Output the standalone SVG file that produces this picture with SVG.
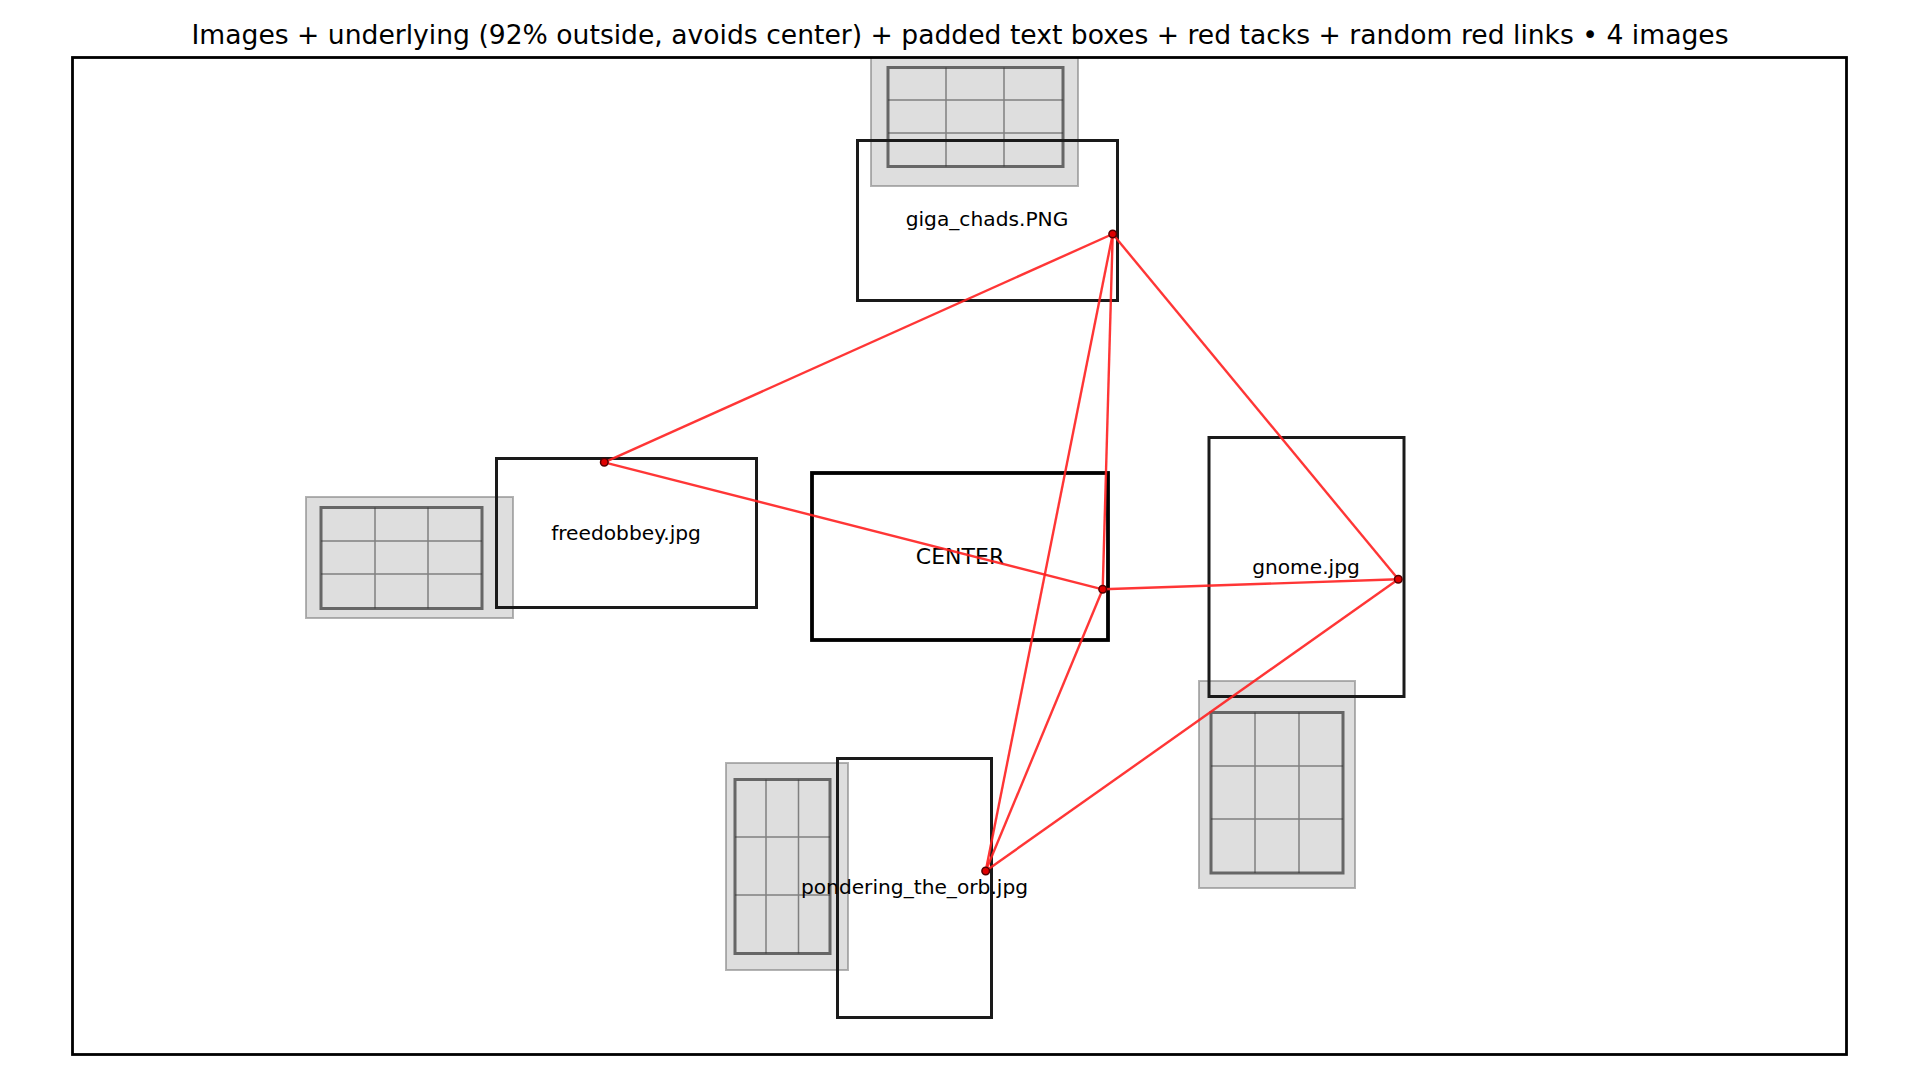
<svg xmlns="http://www.w3.org/2000/svg" width="1920" height="1080" viewBox="0 0 1920 1080">
<style>
  text { font-family: "DejaVu Sans", "Liberation Sans", sans-serif; fill: #000; }
  .title { font-size: 26.6px; }
  .lbl { font-size: 20.2px; text-anchor: middle; }
  .ctr { font-size: 22px; text-anchor: middle; }
  .bg { fill: #c8c8c8; fill-opacity: 0.6; stroke: #808080; stroke-opacity: 0.6; stroke-width: 2; }
  .img { fill: none; stroke: #333; stroke-opacity: 0.7; stroke-width: 3; }
  .grid { stroke: #333; stroke-opacity: 0.55; stroke-width: 1.5; fill: none; }
  .box { fill: none; stroke: #1a1a1a; stroke-width: 3; }
  .cbox { fill: none; stroke: #000; stroke-width: 3.8; }
  .link { stroke: #ff2020; stroke-opacity: 0.9; stroke-width: 2.4; fill: none; }
  .tack { fill: #e00000; stroke: #550000; stroke-width: 1.5; }
</style>
<defs>
  <clipPath id="ax"><rect x="72.5" y="57.5" width="1774" height="997"/></clipPath>
</defs>
<rect width="1920" height="1080" fill="#fff"/>
<text class="title" x="960" y="44" text-anchor="middle">Images + underlying (92% outside, avoids center) + padded text boxes + red tacks + random red links • 4 images</text>

<g clip-path="url(#ax)">
  <g id="img-giga">
    <rect class="bg" x="871" y="50" width="207" height="136"/>
    <path class="grid" d="M946 67.5V166.5M1004 67.5V166.5M888 100H1063M888 133H1063"/>
    <rect class="img" x="888" y="67.5" width="175" height="99"/>
  </g>
  <g id="img-freedobbey">
    <rect class="bg" x="306" y="497" width="207" height="121"/>
    <path class="grid" d="M375 507.5V608.5M428 507.5V608.5M321 541H482M321 574H482"/>
    <rect class="img" x="321" y="507.5" width="161" height="101"/>
  </g>
  <g id="img-gnome">
    <rect class="bg" x="1199" y="681" width="156" height="207"/>
    <path class="grid" d="M1255 712.5V873M1299 712.5V873M1211 766H1343M1211 819H1343"/>
    <rect class="img" x="1211" y="712.5" width="132" height="160.5"/>
  </g>
  <g id="img-pondering">
    <rect class="bg" x="726" y="763" width="122" height="207"/>
    <path class="grid" d="M766 779.5V953.5M798.5 779.5V953.5M735 837H830M735 895H830"/>
    <rect class="img" x="735" y="779.5" width="95" height="174"/>
  </g>
</g>

<g id="node-giga">
  <rect class="box" x="857.5" y="140.5" width="260" height="160"/>
  <text class="lbl" x="987" y="226">giga_chads.PNG</text>
</g>
<g id="node-freedobbey">
  <rect class="box" x="496.5" y="458.5" width="260" height="149"/>
  <text class="lbl" x="626" y="539.5">freedobbey.jpg</text>
</g>
<g id="node-center">
  <rect class="cbox" x="812" y="473" width="296" height="167"/>
  <text class="ctr" x="960" y="564">CENTER</text>
</g>
<g id="node-gnome">
  <rect class="box" x="1209" y="437.5" width="195" height="259"/>
  <text class="lbl" x="1306" y="573.5">gnome.jpg</text>
</g>
<g id="node-pondering">
  <rect class="box" x="837.5" y="758.5" width="154" height="259"/>
  <text class="lbl" x="914.5" y="893.5">pondering_the_orb.jpg</text>
</g>

<g id="links">
  <line class="link" x1="1112.7" y1="234" x2="604.3" y2="462.3"/>
  <line class="link" x1="1112.7" y1="234" x2="1398.3" y2="579.3"/>
  <line class="link" x1="1112.7" y1="234" x2="1102.7" y2="589.3"/>
  <line class="link" x1="1112.7" y1="234" x2="985.7" y2="871"/>
  <line class="link" x1="604.3" y1="462.3" x2="1102.7" y2="589.3"/>
  <line class="link" x1="1102.7" y1="589.3" x2="1398.3" y2="579.3"/>
  <line class="link" x1="1102.7" y1="589.3" x2="985.7" y2="871"/>
  <line class="link" x1="1398.3" y1="579.3" x2="985.7" y2="871"/>
  <circle class="tack" cx="1112.7" cy="234" r="3.8"/>
  <circle class="tack" cx="604.3" cy="462.3" r="3.8"/>
  <circle class="tack" cx="1102.7" cy="589.3" r="3.8"/>
  <circle class="tack" cx="1398.3" cy="579.3" r="3.8"/>
  <circle class="tack" cx="985.7" cy="871" r="3.8"/>
</g>

<rect x="72.5" y="57.5" width="1774" height="997" fill="none" stroke="#000" stroke-width="2.8"/>
</svg>
